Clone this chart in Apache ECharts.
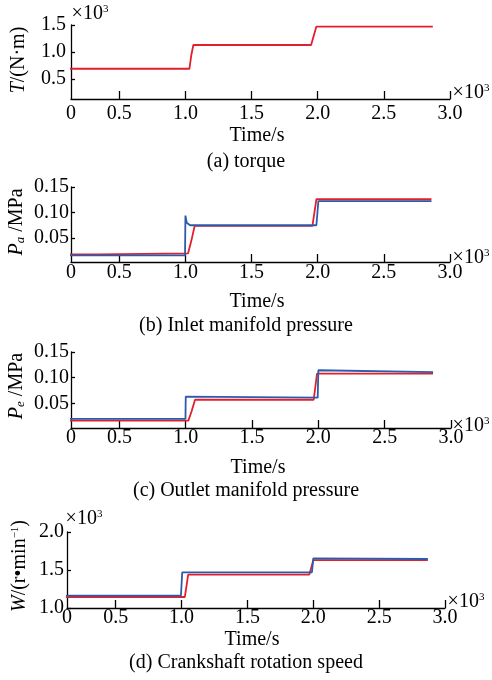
<!DOCTYPE html>
<html>
<head>
<meta charset="utf-8">
<script src="https://cdn.jsdelivr.net/npm/echarts@6/dist/echarts.min.js"></script>
<style>
  html, body { margin: 0; padding: 0; background: #fff; }
  #chart { width: 492px; height: 680px; }
</style>
</head>
<body>
<div id="chart"></div>
<script>
// time ticks, ×10^3 s
const timeTicks = [0.5, 1.0, 1.5, 2.0, 2.5, 3.0];

// (a) torque, ×10^3 N·m
const torqueTicks = [0.5, 1.0, 1.5];
const torqueTime = [0, 1.03, 1.045, 1.06, 1.95, 1.96, 1.99, 2.87];
const torqueVal  = [0.69, 0.69, 0.95, 1.13, 1.13, 1.15, 1.47, 1.47];

// (b) inlet manifold pressure, MPa
const pressTicks = [0.05, 0.10, 0.15];
const inletTimeRed  = [0, 0.33, 0.34, 1.02, 1.045, 1.07, 1.96, 1.99, 2.86];
const inletRed      = [0.018, 0.018, 0.020, 0.020, 0.045, 0.074, 0.074, 0.126, 0.126];
const inletTimeBlue = [0, 0.997, 1.0, 1.01, 1.035, 1.99, 2.005, 2.86];
const inletBlue     = [0.016, 0.016, 0.094, 0.080, 0.075, 0.075, 0.1225, 0.1225];

// (c) outlet manifold pressure, MPa
const outletTimeRed  = [0, 1.02, 1.045, 1.07, 1.965, 1.99, 2.865];
const outletRed      = [0.0163, 0.0163, 0.035, 0.057, 0.057, 0.108, 0.108];
const outletTimeBlue = [0, 0.998, 1.0, 1.01, 1.995, 2.0, 2.01, 2.865];
const outletBlue     = [0.0196, 0.0196, 0.063, 0.061, 0.061, 0.1145, 0.111, 0.111];

// (d) crankshaft rotation speed, ×10^3 r/min
const speedTicks = [1.0, 1.5, 2.0];
const speedTimeRed  = [0, 1.025, 1.05, 1.97, 2.0, 2.87];
const speedRed      = [1.145, 1.145, 1.44, 1.44, 1.63, 1.63];
const speedTimeBlue = [0, 0.995, 1.005, 1.99, 2.0, 2.01, 2.87];
const speedBlue     = [1.162, 1.162, 1.47, 1.47, 1.652, 1.645, 1.645];

const font = 'Liberation Serif';
const red = '#e41f2d';
const blue = '#2c5bab';

function pairs(t, v) {
  return t.map((x, i) => [x, v[i]]);
}

function xAxisFor(idx, min, margin) {
  return {
    type: 'value', gridIndex: idx, min: min, max: 3.0,
    axisLine: { lineStyle: { color: '#000', width: 1.3 } },
    axisTick: { inside: true, length: 8, customValues: timeTicks, lineStyle: { color: '#000', width: 1.3 } },
    axisLabel: {
      customValues: [min].concat(timeTicks), margin: margin,
      color: '#000', fontFamily: font, fontSize: 20,
      formatter: v => v < 0.4 ? '0' : v.toFixed(1)
    },
    splitLine: { show: false }
  };
}

function yAxisFor(idx, min, max, ticks, digits, margin) {
  return {
    type: 'value', gridIndex: idx, min: min, max: max,
    axisLine: { show: true, lineStyle: { color: '#000', width: 1.3 } },
    axisTick: { show: true, inside: true, length: 4, customValues: ticks, lineStyle: { color: '#000', width: 1.3 } },
    axisLabel: {
      customValues: ticks, margin: margin,
      color: '#000', fontFamily: font, fontSize: 20,
      formatter: v => v.toFixed(digits)
    },
    splitLine: { show: false }
  };
}

function line(idx, t, v, color) {
  return {
    type: 'line', xAxisIndex: idx, yAxisIndex: idx,
    data: pairs(t, v), showSymbol: false,
    lineStyle: { color: color, width: 1.8 }, itemStyle: { color: color }
  };
}

function label(x, y, text, extra) {
  return Object.assign({
    type: 'text', x: x, y: y,
    style: {
      text: text, fill: '#000', fontFamily: font, fontSize: 20,
      align: 'center', verticalAlign: 'middle',
      textAlign: 'center', textVerticalAlign: 'middle',
      rich: {
        i: { fontStyle: 'italic', fontFamily: font, fontSize: 20 },
        s: { fontSize: 11, fontFamily: font, verticalAlign: 'top' },
        sub: { fontSize: 13, fontStyle: 'italic', fontFamily: font, verticalAlign: 'bottom' }
      }
    }
  }, extra || {});
}

function times10(x, y) {
  return label(x, y, '×10{s|3}', {});
}

const chart = echarts.init(document.getElementById('chart'));

const option = {
  animation: false,
  grid: [
    { left: 71, top: 25, width: 379, height: 74 },
    { left: 71, top: 187, width: 379, height: 75 },
    { left: 71, top: 352, width: 380, height: 76 },
    { left: 67, top: 532, width: 378, height: 76 }
  ],
  xAxis: [
    xAxisFor(0, 0.135, 5),
    xAxisFor(1, 0.135, 1),
    xAxisFor(2, 0.135, 0),
    xAxisFor(3, 0.13, 0)
  ],
  yAxis: [
    yAxisFor(0, 0.13, 1.5, torqueTicks, 1, 5),
    yAxisFor(1, 0.003, 0.15, pressTicks, 2, 2),
    yAxisFor(2, 0.002, 0.15, pressTicks, 2, 2),
    yAxisFor(3, 1.0, 2.0, speedTicks, 1, 3)
  ],
  series: [
    line(0, torqueTime, torqueVal, red),
    line(1, inletTimeRed, inletRed, red),
    line(1, inletTimeBlue, inletBlue, blue),
    line(2, outletTimeRed, outletRed, red),
    line(2, outletTimeBlue, outletBlue, blue),
    line(3, speedTimeRed, speedRed, red),
    line(3, speedTimeBlue, speedBlue, blue)
  ],
  graphic: [
    // y axis names
    label(19, 60, '{i|T}/(N·m)', { rotation: Math.PI / 2 }),
    label(17, 222, '{i|P}{sub|a} /MPa', { rotation: Math.PI / 2 }),
    label(17, 386, '{i|P}{sub|e} /MPa', { rotation: Math.PI / 2 }),
    label(20, 566, '{i|W}/(r•min{s|−1})', { rotation: Math.PI / 2 }),
    // ×10^3 markers
    label(90, 14, '×10{s|3}', { style: undefined }),
    // x axis titles
    label(257, 136, 'Time/s'),
    label(257, 302, 'Time/s'),
    label(258, 468, 'Time/s'),
    label(252, 640, 'Time/s'),
    // captions
    label(246, 162, '(a) torque'),
    label(246, 326, '(b) Inlet manifold pressure'),
    label(246, 491, '(c) Outlet manifold pressure'),
    label(246, 663, '(d) Crankshaft rotation speed')
  ]
};

// ×10^3 markers (replace the placeholder above)
option.graphic.splice(4, 1,
  times10(90, 14),
  times10(84, 519),
  times10(471, 93),
  times10(471, 258),
  times10(471, 426),
  times10(466, 602)
);

chart.setOption(option);
window.addEventListener('resize', function () {
  chart.resize();
});
</script>
</body>
</html>
